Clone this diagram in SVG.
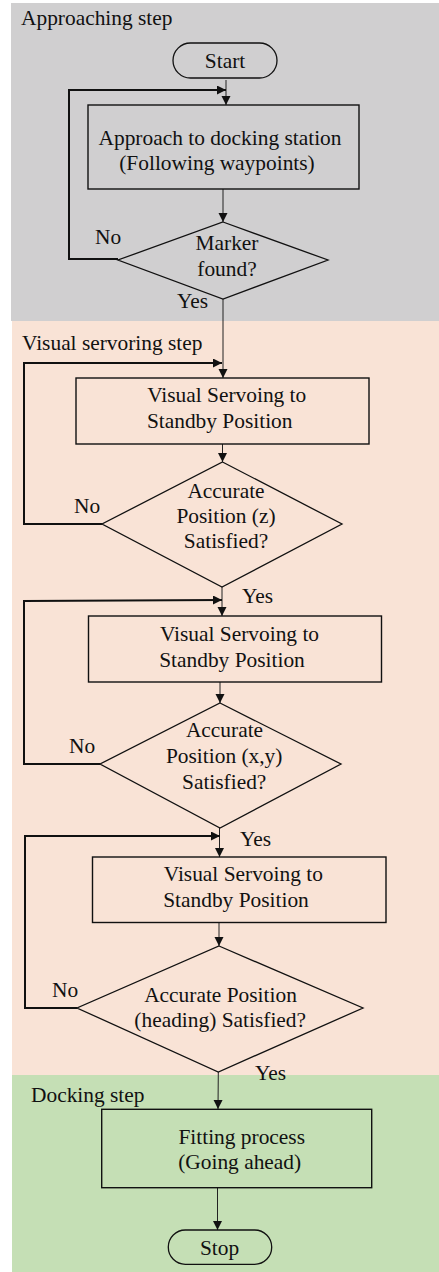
<svg xmlns="http://www.w3.org/2000/svg" width="439" height="1272" viewBox="0 0 439 1272">
<style>
text{font-family:'Liberation Serif',serif;font-size:21.4px;fill:#111;}
.c{text-anchor:middle;}
.n{fill:none;stroke:#111;stroke-width:1.3;}
.box{fill:none;stroke:#111;stroke-width:1.4;}
.a{fill:none;stroke:#222;stroke-width:1;}
.l{fill:none;stroke:#111;stroke-width:2;}
</style>
<defs>
<marker id="ah" markerUnits="userSpaceOnUse" markerWidth="10" markerHeight="10" refX="9" refY="4.5" orient="auto">
<path d="M0,0 L9,4.5 L0,9 z" fill="#111"/>
</marker>
</defs>
<g id="backgrounds">
<rect x="11" y="3" width="428" height="318" fill="#d0cfd0"/>
<rect x="12" y="321" width="427" height="754" fill="#f9e3d6"/>
<rect x="12" y="1075" width="427" height="197" fill="#c5dfb5"/>
<text x="21" y="25">Approaching step</text>
<text x="22" y="350">Visual servoring step</text>
<text x="31" y="1102">Docking step</text>
</g>
<g id="connectors">
<line class="a" x1="226" y1="80" x2="226" y2="105" marker-end="url(#ah)"/>
<polyline class="l" points="118,259 69,259 69,90 226,90" marker-end="url(#ah)"/>
<line class="a" x1="223" y1="189" x2="223" y2="222" marker-end="url(#ah)"/>
<line class="a" x1="223" y1="299" x2="223" y2="378" marker-end="url(#ah)"/>
<polyline class="l" points="102,524 24,524 24,363 222,363" marker-end="url(#ah)"/>
<line class="a" x1="222.5" y1="444" x2="222.5" y2="462" marker-end="url(#ah)"/>
<line class="a" x1="222" y1="587" x2="222" y2="616" marker-end="url(#ah)"/>
<polyline class="l" points="100,764 24,764 24,601 222,600" marker-end="url(#ah)"/>
<line class="a" x1="220" y1="682" x2="220" y2="703" marker-end="url(#ah)"/>
<line class="a" x1="219.5" y1="828" x2="219.5" y2="857" marker-end="url(#ah)"/>
<polyline class="l" points="77,1008 25,1008 25,836 220,836" marker-end="url(#ah)"/>
<line class="a" x1="219" y1="922" x2="219" y2="946" marker-end="url(#ah)"/>
<line class="a" x1="218.3" y1="1072" x2="218" y2="1109" marker-end="url(#ah)"/>
<line class="a" x1="217.5" y1="1188" x2="217.5" y2="1230" marker-end="url(#ah)"/>
<text x="95" y="244">No</text>
<text x="177" y="308">Yes</text>
<text x="74" y="513">No</text>
<text x="242" y="603">Yes</text>
<text x="69" y="753">No</text>
<text x="240" y="846">Yes</text>
<text x="52" y="997">No</text>
<text x="255" y="1080">Yes</text>
</g>
<g id="start">
<rect class="n" x="173" y="43" width="104" height="35" rx="17.5"/>
<text class="c" x="225" y="68">Start</text>
</g>
<g id="approach">
<rect class="box" x="88" y="105" width="271" height="84"/>
<text class="c" x="220" y="145">Approach to docking station</text>
<text class="c" x="217" y="170">(Following waypoints)</text>
</g>
<g id="marker-found">
<polygon class="n" points="223,222 328,260 223,299 118,260"/>
<text class="c" x="227" y="250">Marker</text>
<text class="c" x="227" y="276">found?</text>
</g>
<g id="vs1">
<rect class="box" x="76" y="378" width="293" height="66"/>
<text class="c" x="226.7" y="402">Visual Servoing to</text>
<text class="c" x="219.7" y="428">Standby Position</text>
</g>
<g id="check-z">
<polygon class="n" points="222.5,462 342,524 222,587 102,524"/>
<text class="c" x="226" y="498">Accurate</text>
<text class="c" x="226" y="523">Position (z)</text>
<text class="c" x="226" y="548">Satisfied?</text>
</g>
<g id="vs2">
<rect class="box" x="88.5" y="616" width="293" height="66"/>
<text class="c" x="239.5" y="641">Visual Servoing to</text>
<text class="c" x="232" y="667">Standby Position</text>
</g>
<g id="check-xy">
<polygon class="n" points="220,703 341,764 220,828 100,764"/>
<text class="c" x="224.5" y="737">Accurate</text>
<text class="c" x="224.2" y="763">Position (x,y)</text>
<text class="c" x="224.2" y="789">Satisfied?</text>
</g>
<g id="vs3">
<rect class="box" x="92.5" y="857" width="293.5" height="65.5"/>
<text class="c" x="243.3" y="881">Visual Servoing to</text>
<text class="c" x="236" y="907">Standby Position</text>
</g>
<g id="check-heading">
<polygon class="n" points="219,946 363,1008 218.3,1072 77,1008"/>
<text class="c" x="220.5" y="1002">Accurate Position</text>
<text class="c" x="220.2" y="1027">(heading) Satisfied?</text>
</g>
<g id="fitting">
<rect class="box" x="101.7" y="1109.3" width="270" height="78.4"/>
<text class="c" x="241.7" y="1144">Fitting process</text>
<text class="c" x="239.7" y="1169">(Going ahead)</text>
</g>
<g id="stop">
<rect class="n" x="168.3" y="1230" width="103.4" height="34.3" rx="17"/>
<text class="c" x="219.5" y="1255">Stop</text>
</g>
</svg>
